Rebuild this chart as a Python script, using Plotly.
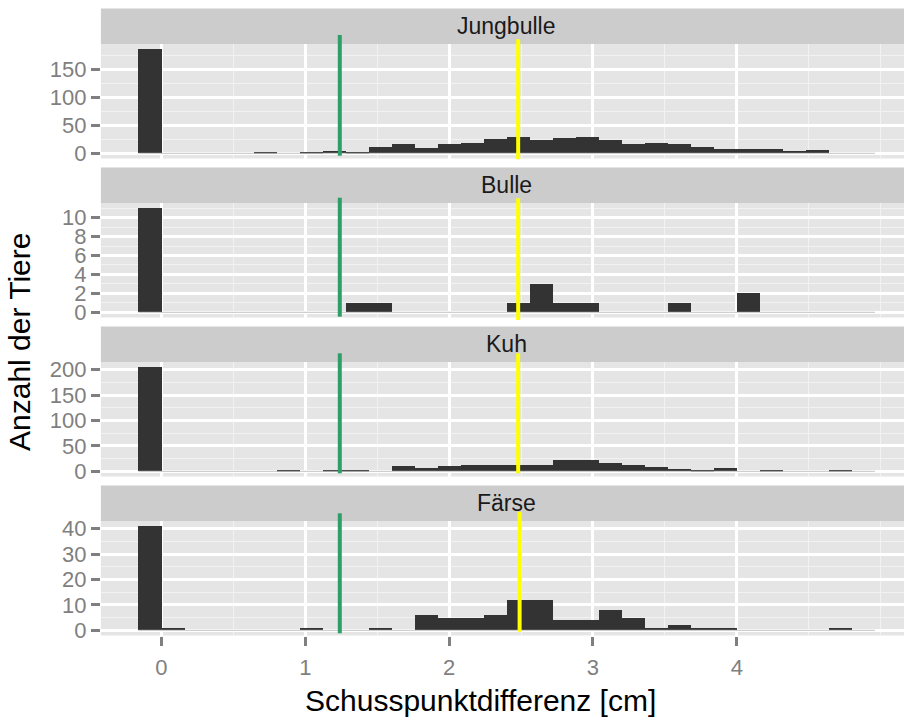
import plotly.graph_objects as go

# ---------------- data ----------------
groups = ["Jungbulle", "Bulle", "Kuh", "Färse"]
bin_width = 0.16
bin_start = -0.16          # left edge of first bin; bins are (left, left + width]
counts_jungbulle = [186, 0, 0, 0, 0, 3, 0, 3, 5, 3, 11, 17, 9, 17, 18, 25,
                    29, 24, 27, 29, 24, 17, 18, 17, 11, 8, 8, 8, 4, 6, 0, 0]
counts_bulle = [11, 0, 0, 0, 0, 0, 0, 0, 0, 1, 1, 0, 0, 0, 0, 0,
                1, 3, 1, 1, 0, 0, 0, 1, 0, 0, 2, 0, 0, 0, 0, 0]
counts_kuh = [205, 0, 0, 0, 0, 0, 2, 0, 2, 2, 0, 11, 7, 11, 13, 13,
              13, 13, 22, 22, 17, 13, 8, 5, 3, 7, 0, 3, 0, 0, 3, 0]
counts_faerse = [41, 1, 0, 0, 0, 0, 0, 1, 0, 0, 1, 0, 6, 5, 5, 6,
                 12, 12, 4, 4, 8, 5, 1, 2, 1, 1, 0, 0, 0, 0, 1, 0]
all_counts = [counts_jungbulle, counts_bulle, counts_kuh, counts_faerse]
green_line_x = [1.24, 1.24, 1.24, 1.24]
yellow_line_x = [2.48, 2.48, 2.48, 2.49]
y_dticks = [50, 2, 50, 10]
x_tickvals = [0, 1, 2, 3, 4]
x_minor_vals = [0.5, 1.5, 2.5, 3.5, 4.5, 5.0]

# ---------------- layout geometry (pixels) ----------------
W, H = 904, 720
PANEL_LEFT = 100.9
X_RANGE = [-0.4206, 5.162]
body_top = [44.0, 203.0, 362.0, 521.0]
body_h = 114.5
strip_h = 35.5
green_ext = [(35.0, 155.7), (197.7, 316.7), (353.3, 473.3), (513.3, 633.3)]
yellow_ext = [(39.3, 159.3), (198.3, 320.0), (353.3, 473.3), (511.7, 631.7)]

FONT = "Liberation Sans, Arial, sans-serif"
GREY50 = "#7f7f7f"


def py(p):
    return 1 - p / H


def px(p):
    return p / W


fig = go.Figure()
bin_lefts = [bin_start + i * bin_width for i in range(len(counts_jungbulle))]
shapes = []
annotations = []

for i, (g, cnt) in enumerate(zip(groups, all_counts)):
    n = i + 1
    xa = "x" if n == 1 else f"x{n}"
    ya = "y" if n == 1 else f"y{n}"
    # zero baseline across all bins
    fig.add_trace(go.Scatter(
        x=[bin_lefts[0], bin_lefts[-1] + bin_width], y=[0, 0],
        mode="lines", line=dict(color="#c4c4c4", width=1),
        xaxis=xa, yaxis=ya, showlegend=False, hoverinfo="skip"))
    fig.add_trace(go.Bar(
        x=bin_lefts, y=cnt, width=bin_width, offset=0,
        marker=dict(color="#333333", line=dict(width=0)),
        xaxis=xa, yaxis=ya, showlegend=False, name=g))

    top = body_top[i]
    bot = top + body_h
    ymax = max(cnt)
    dt = y_dticks[i]
    yname = "yaxis" if n == 1 else f"yaxis{n}"
    xname = "xaxis" if n == 1 else f"xaxis{n}"
    fig.update_layout({
        yname: dict(
            domain=[py(bot), py(top)], anchor=xa, automargin=False,
            range=[-0.05 * ymax, 1.05 * ymax], dtick=dt, tick0=0,
            showgrid=True, gridcolor="white", gridwidth=2.6,
            zeroline=False, showline=False,
            ticks="outside", ticklen=9, tickwidth=2.6, tickcolor=GREY50,
            tickfont=dict(family=FONT, size=22, color=GREY50),
            ticklabelstandoff=0,
            minor=dict(dtick=dt / 2, tick0=0, showgrid=True,
                       gridcolor="#f2f2f2", gridwidth=1.3, ticks=""),
        ),
        xname: dict(
            domain=[px(PANEL_LEFT), 1.0], anchor=ya, automargin=False,
            range=X_RANGE, tickmode="array", tickvals=x_tickvals,
            showgrid=True, gridcolor="white", gridwidth=2.6,
            zeroline=False, showline=False,
            ticks="outside" if n == 4 else "",
            ticklen=9, tickwidth=2.6, tickcolor=GREY50,
            showticklabels=(n == 4), ticklabelstandoff=3,
            tickfont=dict(family=FONT, size=22, color=GREY50),
            minor=dict(tickmode="array", tickvals=x_minor_vals, showgrid=True,
                       gridcolor="#f2f2f2", gridwidth=1.3, ticks=""),
            **({} if n == 1 else {"matches": "x"}),
        ),
    })
    # strip
    shapes.append(dict(type="rect", xref="paper", yref="paper",
                       x0=px(PANEL_LEFT), x1=1.0,
                       y0=py(top), y1=py(top - strip_h),
                       fillcolor="#cccccc", line=dict(width=0), layer="below"))
    annotations.append(dict(text=g, xref="paper", yref="paper",
                            x=px((PANEL_LEFT + 912) / 2), y=py(top - strip_h / 2),
                            xanchor="center", yanchor="middle", showarrow=False,
                            font=dict(family=FONT, size=23, color="#1a1a1a")))
    # vertical reference lines
    shapes.append(dict(type="line", xref=xa, yref="paper",
                       x0=green_line_x[i], x1=green_line_x[i],
                       y0=py(green_ext[i][1]), y1=py(green_ext[i][0]),
                       line=dict(color="#2e9e68", width=4), layer="above"))
    shapes.append(dict(type="line", xref=xa, yref="paper",
                       x0=yellow_line_x[i], x1=yellow_line_x[i],
                       y0=py(yellow_ext[i][1]), y1=py(yellow_ext[i][0]),
                       line=dict(color="#ffff00", width=4), layer="above"))

annotations.append(dict(text="Schusspunktdifferenz [cm]", xref="paper", yref="paper",
                        x=px(481), y=py(700), xanchor="center",
                        yanchor="middle", showarrow=False,
                        font=dict(family=FONT, size=30, color="#000000")))
annotations.append(dict(text="Anzahl der Tiere", xref="paper", yref="paper",
                        x=px(19), y=py(342), xanchor="center", yanchor="middle",
                        textangle=-90, showarrow=False,
                        font=dict(family=FONT, size=30, color="#000000")))

fig.update_layout(
    width=W, height=H,
    margin=dict(l=0, r=0, t=0, b=0, pad=0),
    paper_bgcolor="white", plot_bgcolor="#e5e5e5",
    bargap=0, barmode="overlay",
    shapes=shapes, annotations=annotations,
    showlegend=False,
)

fig.write_html("out.html")
